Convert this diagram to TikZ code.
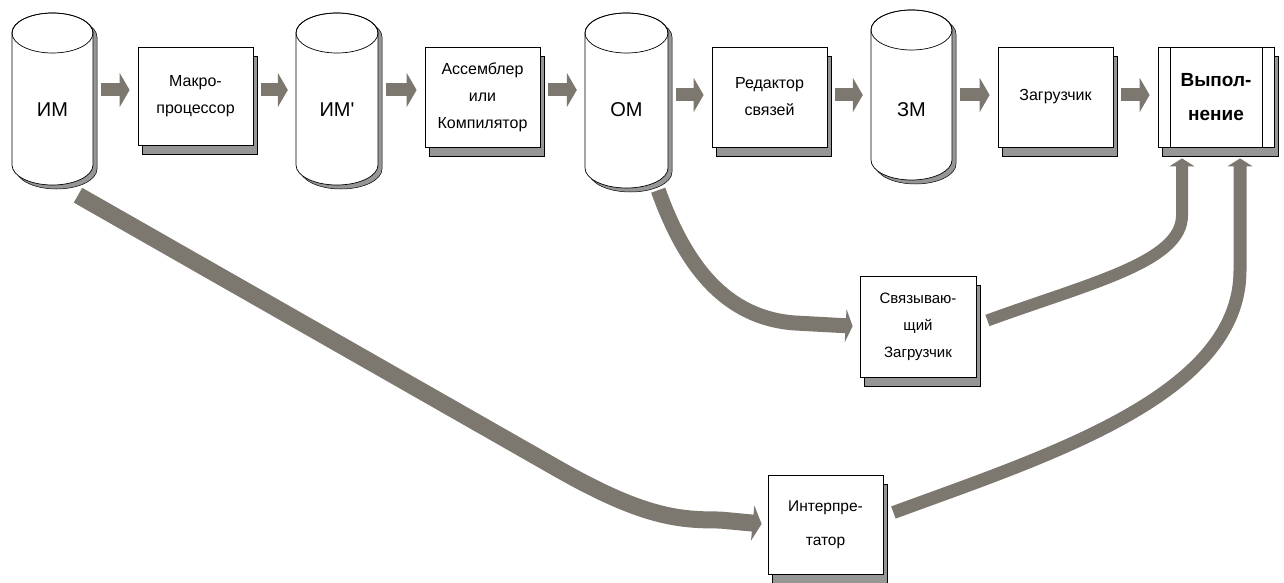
\documentclass[tikz,border=0pt]{standalone}
\usepackage{fontspec}
\setmainfont{Liberation Sans}
\usetikzlibrary{arrows.meta,shadows,calc}
\definecolor{arrowc}{RGB}{125,120,111}
\definecolor{shadowc}{RGB}{150,150,150}

\newcommand\cylpath[4]{%
  (#1,#3+20) -- (#1,#4-20)
  arc[start angle=180,end angle=0,x radius=\cylrx,y radius=20]
  -- (#2,#3+20)
  arc[start angle=0,end angle=-180,x radius=\cylrx,y radius=20] -- cycle}
\newcommand\drawcyl[4]{% L R top bottom
  \pgfmathsetmacro\cylrx{(#2-#1)/2}
  \begin{scope}[shift={(4,4)}]
    \filldraw[fill=shadowc,draw=black,line width=0.5pt] \cylpath{#1}{#2}{#3}{#4};
  \end{scope}
  \filldraw[fill=white,draw=black,line width=0.7pt] \cylpath{#1}{#2}{#3}{#4};
  \draw[line width=0.7pt] ({(#1+#2)/2},#3+20) ellipse[x radius=\cylrx,y radius=20];
}

\begin{document}
\begin{tikzpicture}[x=1pt,y=-1pt,
  box/.style={draw=black,line width=0.8pt,fill=white,minimum width=115pt,
    minimum height=100pt,inner sep=2pt,align=center,
    font=\fontsize{16}{27}\selectfont,
    copy shadow={shadow xshift=4pt,shadow yshift=-9pt,fill=shadowc,draw=black,line width=0.6pt}},
  cylnode/.style={draw=none,inner sep=0pt},
  cyltext/.style={inner sep=1pt,font=\fontsize{20}{22}\selectfont},
  flow/.style={draw=arrowc,line width=13pt,-{Triangle[length=10pt,width=34pt]},
    shorten <=8pt,shorten >=8pt},
  bigflow/.style={draw=arrowc,line width=16pt,-{Triangle[length=9pt,width=35pt]}},
  upflow/.style={draw=arrowc,line width=12pt,-{Triangle[length=8pt,width=25pt]}},
]
\useasboundingbox (0,0) rectangle (1284,583);

% cylinders
\drawcyl{12}{93}{13}{185}
\drawcyl{296}{378}{13}{185}
\drawcyl{585}{668}{13}{188}
\drawcyl{871}{952}{10}{180}
\node[cylnode,minimum width=81pt,minimum height=172pt] (im) at (52.5,99) {};
\node[cylnode,minimum width=82pt,minimum height=172pt] (imp) at (337,99) {};
\node[cylnode,minimum width=83pt,minimum height=175pt] (om) at (626.5,100.5) {};
\node[cylnode,minimum width=81pt,minimum height=170pt] (zm) at (911.5,95) {};
\node[cyltext] (imlabel) at (52.5,110) {ИМ};
\node[cyltext] (implabel) at (337,110) {ИМ\textquotesingle};
\node[cyltext] (omlabel) at (626.5,110) {ОМ};
\node[cyltext] (zmlabel) at (911.5,110) {ЗМ};

% boxes
\node[box,minimum height=98pt] (macro) at (195.5,96) {Макро-\\процессор};
\node[box] (asm) at (482.5,97) {Ассемблер\\или\\Компилятор};
\node[box] (red) at (769.5,97) {Редактор\\связей};
\node[box] (zagr) at (1055.5,97) {Загрузчик};
\node[box,minimum width=116pt,font=\fontsize{19}{34}\bfseries] (vyp) at (1216,97) {Выпол-\\нение};
\draw[line width=0.6pt] ([xshift=13pt]vyp.north west) -- ([xshift=13pt]vyp.south west);
\draw[line width=0.6pt] ([xshift=-12pt]vyp.north east) -- ([xshift=-12pt]vyp.south east);
\node[box,minimum width=116pt,minimum height=101pt,font=\fontsize{15}{27}\selectfont] (svyaz) at (918,326.5) {Связываю-\\щий\\Загрузчик};
\node[box,minimum height=99pt,font=\fontsize{15.5}{34}\selectfont] (interp) at (825.5,524.5) {Интерпре-\\татор};

% top row arrows
\coordinate (rowA) at (0,90);
\coordinate (rowB) at (0,95);
\draw[flow] (im.east |- rowA) -- (macro.west |- rowA);
\draw[flow] (macro.east |- rowA) -- (imp.west |- rowA);
\draw[flow] (imp.east |- rowA) -- (asm.west |- rowA);
\draw[flow] (asm.east |- rowA) -- (om.west |- rowA);
\draw[flow] (om.east |- rowB) -- (red.west |- rowB);
\draw[flow] (red.east |- rowB) -- (zm.west |- rowB);
\draw[flow] (zm.east |- rowB) -- (zagr.west |- rowB);
\draw[flow] (zagr.east |- rowB) -- (vyp.west |- rowB);

% curved connectors
\draw[bigflow,line width=15pt,-{Triangle[length=7pt,width=33pt]},shorten >=7pt]
  ($(om.south east)+(-10,2)$) .. controls (685,265) and (725,318) .. (795,323) -- (svyaz.west);
\draw[upflow,shorten >=11pt]
  ($(svyaz.east)+(11,-6)$) .. controls (1090,283) and (1182,262) .. ($(vyp.south)+(-34,68)$)
  -- ([xshift=-34pt]vyp.south);
\draw[upflow,line width=13pt,shorten >=11pt]
  ($(interp.east)+(10,-12)$) .. controls (1050,455) and (1240,395) .. ($(vyp.south)+(24,123)$)
  -- ([xshift=24pt]vyp.south);
\draw[bigflow,line width=17pt,shorten >=6pt]
  ($(im.south)+(25.5,10)$) -- (560,470) .. controls (645,518) and (680,520) .. (720,520)
  -- (interp.west);
\end{tikzpicture}
\end{document}
